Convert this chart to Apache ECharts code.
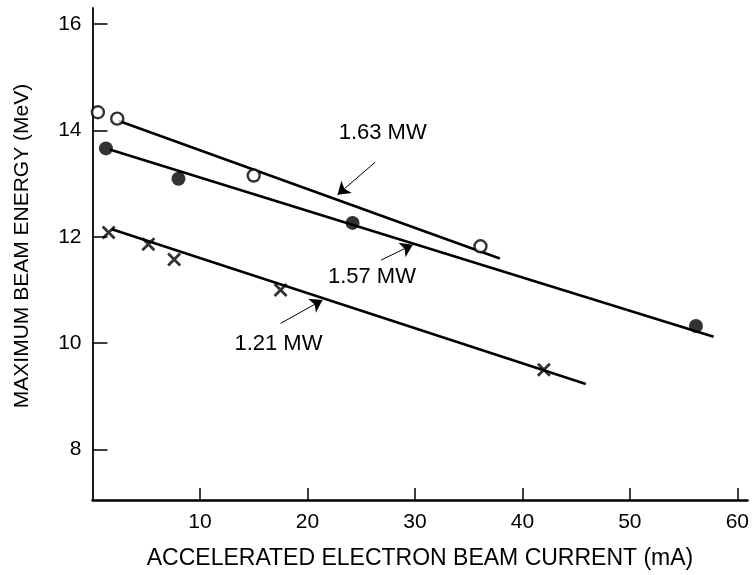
<!DOCTYPE html>
<html>
<head>
<meta charset="utf-8">
<script src="https://cdn.jsdelivr.net/npm/echarts@6/dist/echarts.min.js"></script>
<style>html,body{margin:0;padding:0;background:#fff}#c{width:752px;height:575px}</style>
</head>
<body>
<div id="c"></div>
<script>
// ---- data ----
const xTicks = [10, 20, 30, 40, 50, 60];
const yTicks = [8, 10, 12, 14, 16];

const open163X = [0.5, 2.3, 15.0, 36.1];
const open163Y = [14.34, 14.22, 13.15, 11.82];
const filled157X = [1.25, 8.0, 24.2, 56.15];
const filled157Y = [13.66, 13.09, 12.26, 10.32];
const cross121X = [1.5, 5.2, 7.6, 17.5, 42.0];
const cross121Y = [12.08, 11.86, 11.57, 11.0, 9.5];

const fit163X = [2.4, 37.9];
const fit163Y = [14.18, 11.59];
const fit157X = [1.6, 57.8];
const fit157Y = [13.64, 10.12];
const fit121X = [1.8, 45.9];
const fit121Y = [12.14, 9.23];

const annText = ['1.63 MW', '1.57 MW', '1.21 MW'];
const annLabelX = [27.0, 26.0, 17.3];
const annLabelY = [13.95, 11.25, 9.98];
const annTailX = [26.3, 26.85, 17.5];
const annTailY = [13.40, 11.56, 10.37];
const annHeadX = [22.8, 29.8, 21.4];
const annHeadY = [12.79, 11.85, 10.81];

const xTitle = 'ACCELERATED ELECTRON BEAM CURRENT (mA)';
const yTitle = 'MAXIMUM BEAM ENERGY (MeV)';

// ---- build ----
const zip = (a, b) => a.map((v, i) => [v, b[i]]);
const FONT = '"Liberation Sans", Arial, sans-serif';
const chart = echarts.init(document.getElementById('c'), null, {renderer: 'canvas'});

const lineSeries = (x, y) => ({
  type: 'line', data: zip(x, y), symbol: 'none', silent: true,
  lineStyle: {color: '#000', width: 2.6}, animation: false, z: 2
});

const arrows = {
  type: 'line', data: [], silent: true, animation: false,
  markLine: {
    silent: true, animation: false,
    symbol: ['none', 'arrow'], symbolSize: 12,
    lineStyle: {color: '#000', width: 1, type: 'solid'},
    label: {show: false},
    data: annText.map((t, i) => [{coord: [annTailX[i], annTailY[i]]}, {coord: [annHeadX[i], annHeadY[i]]}])
  }
};

chart.setOption({
  animation: false,
  backgroundColor: '#fff',
  grid: {left: 92.5, right: 0, top: 8, bottom: 69.5, containLabel: false},
  xAxis: {
    type: 'value', min: 0, max: 60.95,
    axisLine: {show: true, onZero: false, lineStyle: {color: '#000', width: 2.5}},
    axisTick: {show: true, inside: true, length: 12, lineStyle: {color: '#000', width: 1.5}, customValues: xTicks},
    axisLabel: {show: true, margin: 12, color: '#000', fontSize: 21, fontFamily: FONT, customValues: xTicks},
    splitLine: {show: false},
    name: xTitle, nameLocation: 'middle', nameGap: 47,
    nameTextStyle: {color: '#000', fontSize: 23, fontFamily: FONT, verticalAlign: 'top'}
  },
  yAxis: {
    type: 'value', min: 7.05, max: 16.3,
    axisLine: {show: true, onZero: false, lineStyle: {color: '#000', width: 1.8}},
    axisTick: {show: true, inside: true, length: 15, lineStyle: {color: '#000', width: 1.5}, customValues: yTicks},
    axisLabel: {show: true, margin: 11, color: '#000', fontSize: 21, fontFamily: FONT, customValues: yTicks},
    splitLine: {show: false}
  },
  series: [
    lineSeries(fit163X, fit163Y),
    lineSeries(fit157X, fit157Y),
    lineSeries(fit121X, fit121Y),
    {
      name: '1.63 MW', type: 'scatter', data: zip(open163X, open163Y),
      symbol: 'circle', symbolSize: 12, z: 5,
      itemStyle: {color: '#fff', borderColor: '#000', borderWidth: 2.4}
    },
    {
      name: '1.57 MW', type: 'scatter', data: zip(filled157X, filled157Y),
      symbol: 'circle', symbolSize: 14, z: 5,
      itemStyle: {color: '#000', borderColor: '#000', borderWidth: 0}
    },
    {
      name: '1.21 MW', type: 'scatter', data: zip(cross121X, cross121Y),
      symbol: 'path://M0,0L10,10M10,0L0,10', symbolSize: 12, z: 5,
      itemStyle: {color: 'none', borderColor: '#000', borderWidth: 2.8}
    },
    arrows
  ]
});

const graphics = annText.map((t, i) => {
  const p = chart.convertToPixel({gridIndex: 0}, [annLabelX[i], annLabelY[i]]);
  return {
    type: 'text', x: p[0], y: p[1], silent: true,
    style: {text: t, fill: '#000', font: '22px ' + FONT, align: 'center', verticalAlign: 'middle'}
  };
});
graphics.push({
  type: 'text', x: 22, y: 246, rotation: Math.PI / 2, silent: true,
  style: {text: yTitle, fill: '#000', font: '21px ' + FONT, align: 'center', verticalAlign: 'middle'}
});
chart.setOption({graphic: graphics});
</script>
</body>
</html>
